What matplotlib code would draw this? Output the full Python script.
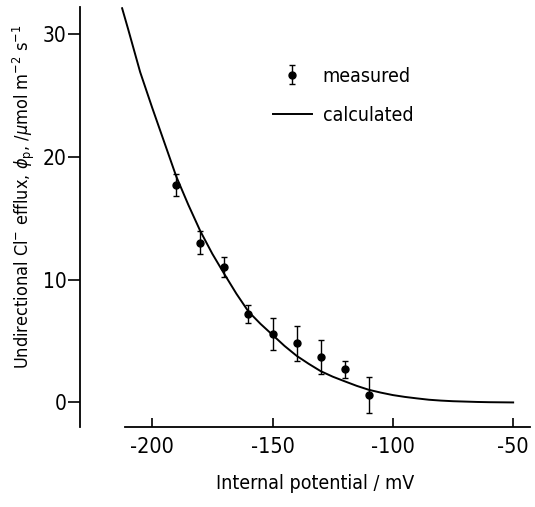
import matplotlib
matplotlib.use('Agg')
import matplotlib.pyplot as plt
from matplotlib import font_manager

# Measured points (mean +/- error)
potential = [-190, -180, -170, -160, -150, -140, -130, -120, -110]
efflux = [17.7, 13.0, 11.05, 7.2, 5.55, 4.8, 3.7, 2.7, 0.6]
efflux_err = [0.9, 0.95, 0.8, 0.75, 1.3, 1.4, 1.4, 0.7, 1.5]

# Calculated curve
calc_x = [-212.5, -210, -205, -200, -195, -190, -185, -180, -175, -170, -165,
          -160, -155, -150, -145, -140, -135, -130, -125, -120, -115, -110,
          -105, -100, -95, -90, -85, -80, -75, -70, -65, -60, -55, -50]
calc_y = [32.1, 30.4, 26.9, 24.0, 21.2, 18.4, 16.1, 13.95, 12.1, 10.45, 8.85,
          7.4, 6.4, 5.5, 4.6, 3.8, 3.15, 2.55, 2.1, 1.72, 1.35, 1.03,
          0.8, 0.6, 0.45, 0.33, 0.22, 0.15, 0.1, 0.07, 0.04, 0.02, 0.01, 0.0]

xticks = [-200, -150, -100, -50]
yticks = [0, 10, 20, 30]

# narrow font if there is one, otherwise condensed DejaVu
names = {f.name for f in font_manager.fontManager.ttflist}
narrow = 'Liberation Sans Narrow' if 'Liberation Sans Narrow' in names else 'DejaVu Sans'
plt.rcParams['font.family'] = [narrow, 'DejaVu Sans']
plt.rcParams['font.stretch'] = 'condensed'
plt.rcParams['axes.unicode_minus'] = False
plt.rcParams['mathtext.fontset'] = 'custom'
plt.rcParams['mathtext.rm'] = narrow
plt.rcParams['mathtext.it'] = narrow + ':italic'
plt.rcParams['mathtext.sf'] = narrow

fig = plt.figure(figsize=(5.35, 5.07), dpi=100)
ax = fig.add_axes([80 / 535, 80 / 507, 450 / 535, 420 / 507])

ax.plot(calc_x, calc_y, color='black', lw=1.4, clip_on=False, label='calculated')
ax.errorbar(potential, efflux, yerr=efflux_err, fmt='o', color='black',
            ms=5, elinewidth=1.0, capsize=2.0, capthick=1.0, label='measured')

ax.set_xlim(-230, -43)
ax.set_ylim(-2.0, 32.2)

for side in ['top', 'right']:
    ax.spines[side].set_visible(False)
ax.spines['bottom'].set_bounds(-211.5, -43)
ax.spines['left'].set_linewidth(1.3)
ax.spines['bottom'].set_linewidth(1.3)

ax.set_xticks(xticks)
ax.set_yticks(yticks)
ax.tick_params(axis='x', direction='in', length=6.5, width=1.2, labelsize=15.5, pad=7)
ax.tick_params(axis='y', direction='out', length=8.5, width=1.2, labelsize=15, pad=1)

ax.set_xlabel('Internal potential / mV', fontsize=14)
ax.xaxis.set_label_coords(0.522, -0.111)
ax.set_ylabel(r'Undirectional Cl$^{-}$ efflux, $\phi_{\rm p}$, /$\mu$mol m$^{-2}$ s$^{-1}$',
              fontsize=13)
ax.yaxis.set_label_coords(-0.095, 0.548)

handles, labels = ax.get_legend_handles_labels()
ax.legend(handles[::-1], labels[::-1], loc='upper left', bbox_to_anchor=(0.39, 0.90),
          frameon=False, fontsize=14, handlelength=2.0, handletextpad=0.55,
          labelspacing=1.05)

fig.savefig('out.png', dpi=100)
